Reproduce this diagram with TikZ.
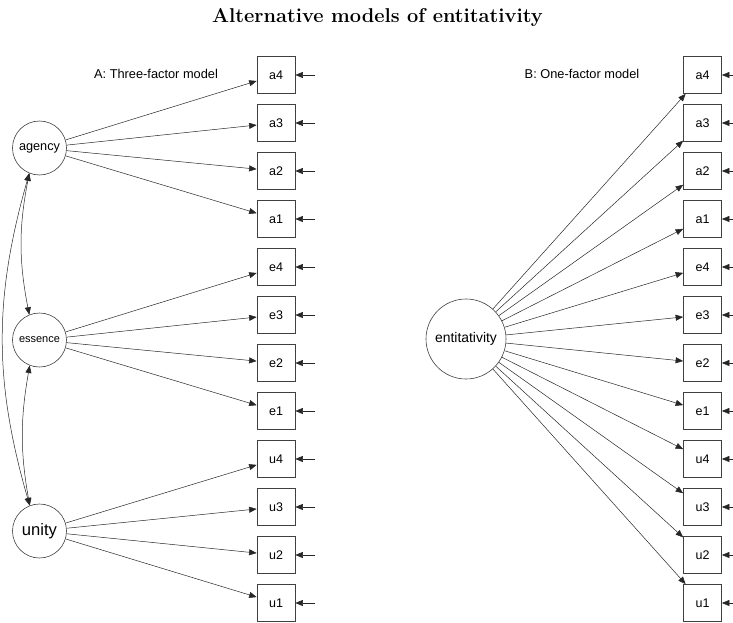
\documentclass[tikz,border=0pt]{standalone}
\usepackage{fontspec}
\newfontfamily\labelfont{Liberation Sans}
\usetikzlibrary{arrows.meta}
\def\fsz#1{\fontsize{#1}{#1}\selectfont}

\tikzset{
	latent/.style={circle, draw=black!75, line width=0.6pt, inner sep=0pt, minimum size=54pt, font=\labelfont},
	obs/.style={rectangle, draw=black!75, line width=0.7pt, minimum width=38pt, minimum height=37pt, inner sep=0pt, font=\labelfont\fsz{12.5}},
	load/.style={draw=black!85, line width=0.5pt, -{Triangle[length=7.5pt,width=6pt]}},
	cov/.style={draw=black!85, line width=0.5pt, {Triangle[length=7.5pt,width=6pt]}-{Triangle[length=7.5pt,width=6pt]}},
}

\begin{document}
\begin{tikzpicture}[x=1pt, y=-1pt]
			%%%%% START %%%%%
			
			\useasboundingbox (0, 0) rectangle (733, 623);
			
			\node[font=\bfseries\fsz{20}, anchor=base] (title) at (377.5, 23) {Alternative models of entitativity};
			\node[font=\labelfont\fsz{12.8}] (capA) at (156, 74) {A: Three-factor model};
			\node[font=\labelfont\fsz{12.8}] (capB) at (582, 74) {B: One-factor model};
			
			% three-factor model
			\node[latent, font=\labelfont\fsz{12.7}] (ag) at (39.5, 148) {agency};
			\node[latent, font=\labelfont\fsz{11}] (es) at (39.5, 340) {essence};
			\node[latent, font=\labelfont\fsz{16.6}] (un) at (39.5, 531) {unity};
			
			\foreach \v [count=\i from 0] in {a4,a3,a2,a1,e4,e3,e2,e1,u4,u3,u2,u1} {
				\node[obs] (l\v) at (276, 75+48*\i) {\v};
				\draw[load] ([xshift=20pt]l\v.east) -- (l\v.east);
			}
			\foreach \v in {a4,a3,a2,a1} \draw[load] (ag) -- (l\v);
			\foreach \v in {e4,e3,e2,e1} \draw[load] (es) -- (l\v);
			\foreach \v in {u4,u3,u2,u1} \draw[load] (un) -- (l\v);
			
			\draw[cov] (ag.248) to[bend right=11] (es.112);
			\draw[cov] (es.249) to[bend right=10] (un.111);
			\draw[cov] (ag.248) to[bend right=16] (un.111);
			
			% one-factor model
			\node[latent, minimum size=80pt, font=\labelfont\fsz{13.9}] (ent) at (466, 339) {entitativity};
			
			\foreach \v [count=\i from 0] in {a4,a3,a2,a1,e4,e3,e2,e1,u4,u3,u2,u1} {
				\node[obs] (r\v) at (702.5, 75+48*\i) {\v};
				\draw[load] ([xshift=12pt]r\v.east) -- (r\v.east);
				\draw[load] (ent) -- (r\v);
			}
			
			%%%%% END %%%%%
\end{tikzpicture}
\end{document}
